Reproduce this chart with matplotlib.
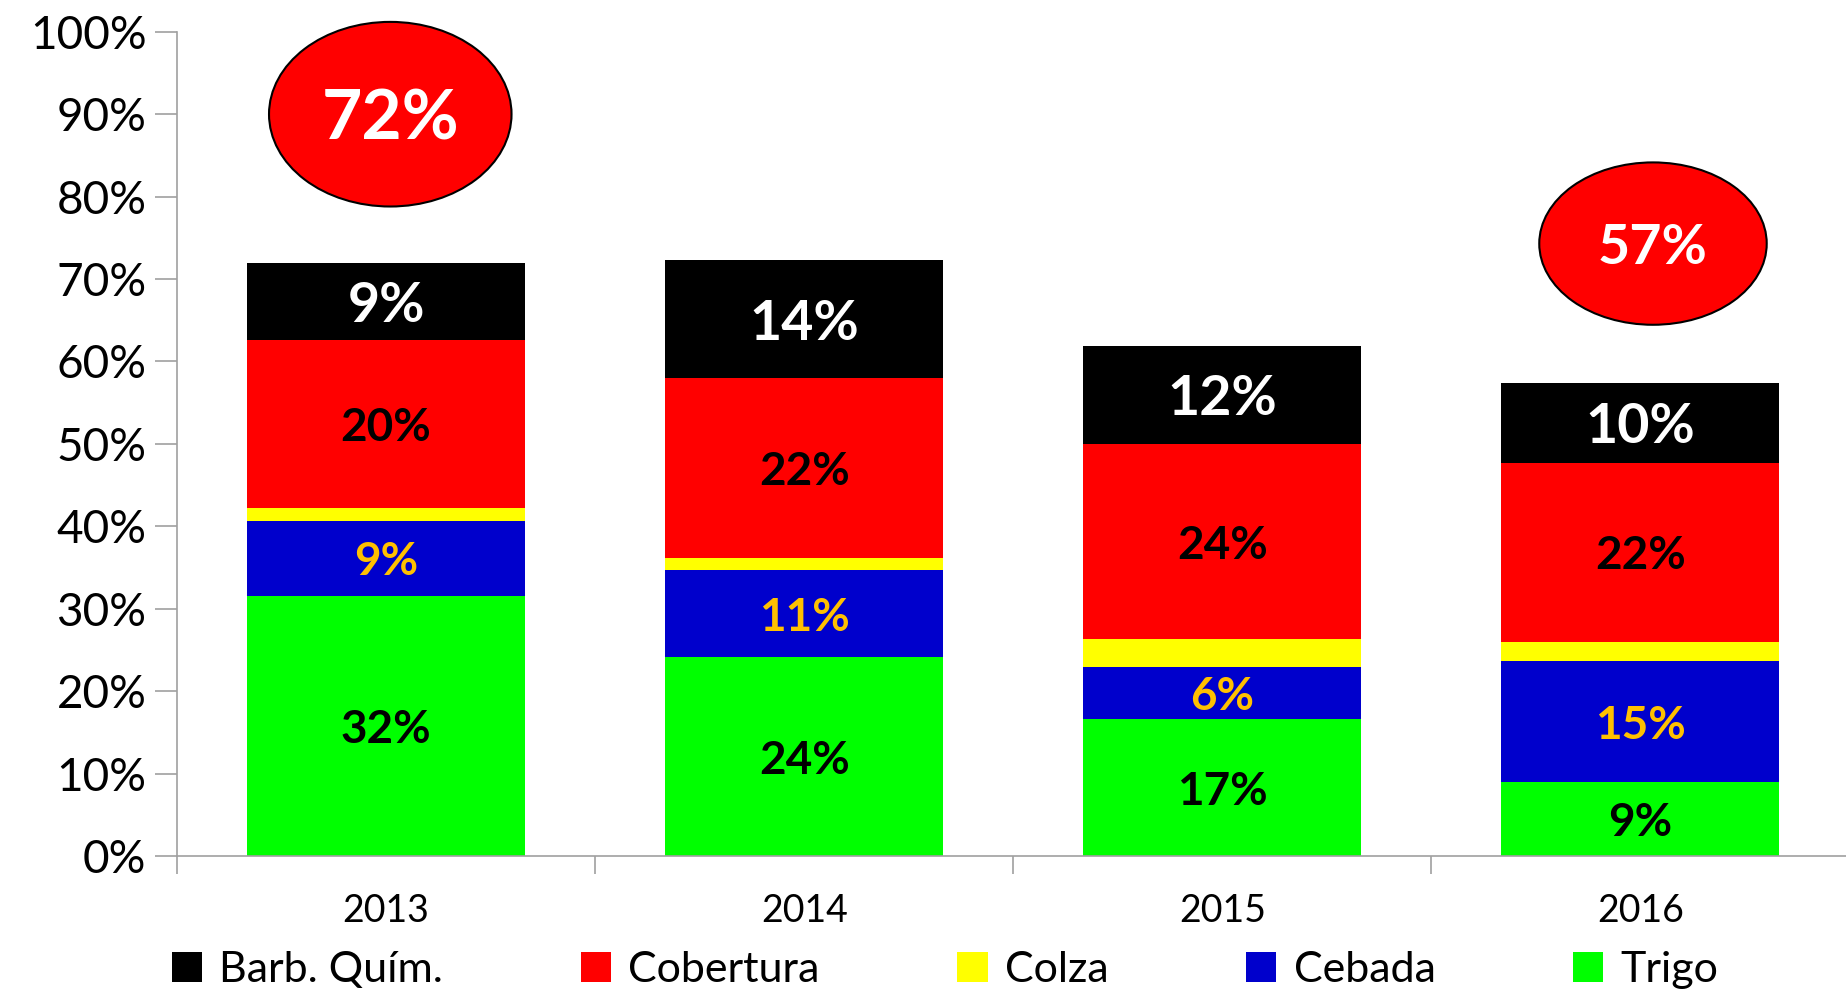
import numpy as np
import matplotlib.pyplot as plt
from matplotlib.patches import Ellipse

plt.rcParams['font.family'] = ['Lato', 'DejaVu Sans']

anios = ["2013", "2014", "2015", "2016"]
# porcentajes de cada capa (de abajo hacia arriba)
trigo = [31.6, 24.1, 16.6, 9.0]
cebada = [9.1, 10.6, 6.3, 14.6]
colza = [1.5, 1.4, 3.4, 2.4]
cobertura = [20.4, 21.9, 23.7, 21.7]
barb = [9.4, 14.3, 11.9, 9.7]

capas = [
    ("Trigo", trigo, "#00FF00", "black", 33),
    ("Cebada", cebada, "#0000CC", "#FFC000", 33),
    ("Colza", colza, "#FFFF00", None, 0),
    ("Cobertura", cobertura, "#FF0000", "black", 33),
    ("Barb. Quím.", barb, "#000000", "white", 40),
]

fig = plt.figure(figsize=(18.46, 9.9), dpi=100)
ax = fig.add_axes([0.0959, 0.1354, 0.906, 0.8325])

x = np.arange(len(anios))
base = np.zeros(len(anios))
barras = {}
for nombre, vals, color, col_txt, tam in capas:
    vals = np.array(vals)
    b = ax.bar(x, vals, width=0.665, bottom=base, color=color, label=nombre)
    barras[nombre] = b
    if col_txt is not None:
        for xi, v, b0 in zip(x, vals, base):
            ax.text(xi, b0 + v / 2, f"{v:.0f}%", ha="center", va="center_baseline",
                    color=col_txt, fontsize=tam, fontweight="bold")
    base = base + vals

# elipses con el total
totales = base
for i, (cx, cy, w, h, tam) in {0: (0.01, 90, 0.58, 22.4, 50),
                               3: (3.03, 74.3, 0.544, 19.7, 40)}.items():
    ax.add_patch(Ellipse((cx, cy), w, h, facecolor="#FF0000",
                         edgecolor="black", linewidth=1.5, zorder=5, clip_on=False))
    ax.text(cx, cy, f"{totales[i]:.0f}%", ha="center", va="center_baseline",
            color="white", fontsize=tam, fontweight="bold", zorder=6)

ax.set_xlim(-0.5, 3.5)
ax.set_ylim(0, 100)
ax.set_yticks(np.arange(0, 101, 10))
ax.set_yticklabels([f"{v}%" for v in range(0, 101, 10)], fontsize=33)
ax.set_xticks(x)
ax.set_xticklabels(anios, fontsize=27)
ax.set_xticks(np.arange(-0.5, 3.5, 1), minor=True)
ax.tick_params(axis="x", which="major", length=0, pad=27)
ax.tick_params(axis="x", which="minor", length=13, color="#A0A0A0", width=1.2)
ax.tick_params(axis="y", length=16, color="#A0A0A0", width=1.2, pad=6)
for lado in ["top", "right"]:
    ax.spines[lado].set_visible(False)
for lado in ["left", "bottom"]:
    ax.spines[lado].set_color("#A0A0A0")
    ax.spines[lado].set_linewidth(1.2)

orden = ["Barb. Quím.", "Cobertura", "Colza", "Cebada", "Trigo"]
fig.legend([barras[n] for n in orden], orden, loc="center",
           bbox_to_anchor=(0.512, 0.02), ncol=5, frameon=False, fontsize=31,
           handlelength=0.7, handleheight=0.7, handletextpad=0.4,
           columnspacing=3.2)

fig.savefig("out.png", dpi=100)
